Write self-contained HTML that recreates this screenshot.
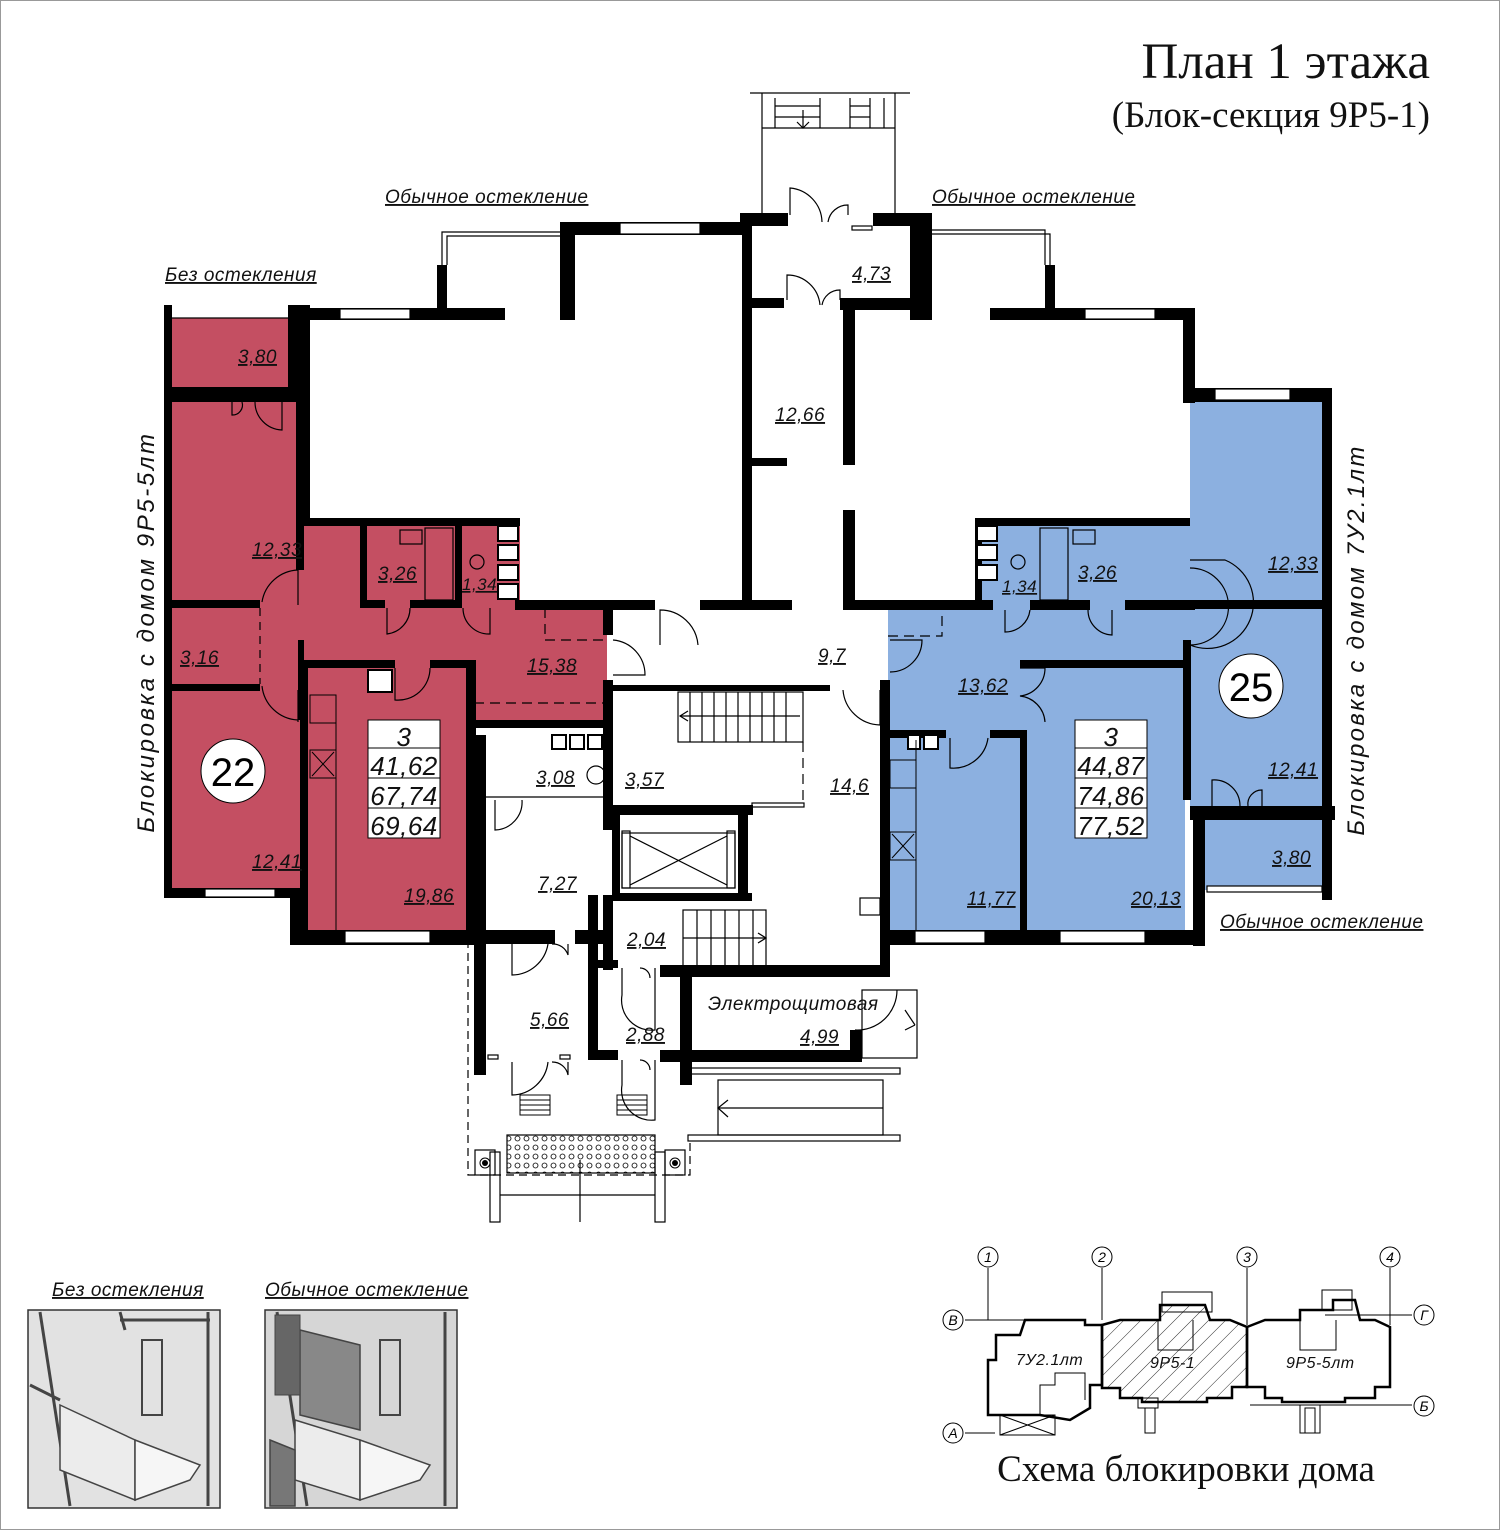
<!DOCTYPE html>
<html><head><meta charset="utf-8"><style>
html,body{margin:0;padding:0;background:#fff;}
svg{display:block;}
.l{font-family:"Liberation Sans","DejaVu Sans",sans-serif;font-style:italic;font-size:19px;fill:#111;letter-spacing:0.5px;}
.s{font-family:"Liberation Sans","DejaVu Sans",sans-serif;font-style:italic;font-size:19px;fill:#111;letter-spacing:0.5px;}
.t{font-family:"Liberation Serif",serif;fill:#111;}
</style></head><body>
<svg width="1500" height="1530" viewBox="0 0 1500 1530" xmlns="http://www.w3.org/2000/svg">
<defs>
<pattern id="h" width="12" height="12" patternUnits="userSpaceOnUse" patternTransform="rotate(45)"><line x1="0" y1="0" x2="0" y2="12" stroke="#000" stroke-width="0.8"/></pattern>
<pattern id="dots" width="9" height="9" patternUnits="userSpaceOnUse"><circle cx="4.5" cy="4.5" r="2.5" fill="none" stroke="#000" stroke-width="0.8"/></pattern>
</defs>
<rect x="0.5" y="0.5" width="1499" height="1529" fill="#fff" stroke="#999"/>
<text class="t" x="1430" y="78" font-size="51" text-anchor="end">План 1 этажа</text>
<text class="t" x="1430" y="127" font-size="37" text-anchor="end">(Блок-секция 9Р5-1)</text>

<!-- red apartment -->
<g fill="#c44f62">
<rect x="172" y="318" width="116" height="70"/>
<rect x="172" y="402" width="130" height="490"/>
<rect x="300" y="522" width="220" height="80"/>
<rect x="255" y="600" width="352" height="70"/>
<rect x="474" y="600" width="133" height="124"/>
<rect x="300" y="660" width="170" height="272"/>
</g>
<!-- blue apartment -->
<g fill="#8cb0e0">
<rect x="1190" y="402" width="134" height="404"/>
<rect x="1205" y="818" width="118" height="72"/>
<rect x="975" y="522" width="215" height="84"/>
<rect x="888" y="604" width="302" height="62"/>
<rect x="888" y="660" width="135" height="272"/>
<rect x="1023" y="665" width="162" height="267"/>
</g>

<!-- walls -->
<g fill="#000">
<rect x="164" y="305" width="8" height="82"/>
<rect x="164" y="387" width="136" height="15"/>
<rect x="164" y="400" width="8" height="498"/>
<rect x="288" y="305" width="22" height="97"/>
<rect x="300" y="305" width="10" height="220"/>
<rect x="300" y="308" width="205" height="12"/>
<rect x="437" y="265" width="10" height="50"/>
<rect x="560" y="225" width="15" height="95"/>
<rect x="560" y="222" width="190" height="13"/>
<rect x="296" y="402" width="8" height="168"/>
<rect x="300" y="518" width="220" height="8"/>
<rect x="172" y="600" width="88" height="8"/>
<rect x="172" y="684" width="88" height="7"/>
<rect x="298" y="640" width="6" height="80"/>
<rect x="164" y="888" width="136" height="10"/>
<rect x="290" y="888" width="10" height="57"/>
<rect x="290" y="930" width="190" height="15"/>
<rect x="300" y="660" width="8" height="272"/>
<rect x="300" y="660" width="95" height="8"/>
<rect x="430" y="660" width="45" height="8"/>
<rect x="466" y="660" width="10" height="285"/>
<rect x="470" y="720" width="140" height="8"/>
<rect x="603" y="605" width="10" height="30"/>
<rect x="603" y="680" width="10" height="150"/>
<rect x="515" y="600" width="140" height="10"/>
<rect x="360" y="522" width="7" height="82"/>
<rect x="455" y="522" width="7" height="82"/>
<rect x="360" y="600" width="25" height="8"/>
<rect x="410" y="600" width="52" height="8"/>
<rect x="740" y="213" width="48" height="13"/>
<rect x="873" y="213" width="59" height="13"/>
<rect x="742" y="220" width="10" height="380"/>
<rect x="700" y="600" width="92" height="10"/>
<rect x="752" y="298" width="32" height="10"/>
<rect x="840" y="298" width="70" height="12"/>
<rect x="910" y="225" width="22" height="95"/>
<rect x="752" y="458" width="35" height="8"/>
<rect x="843" y="305" width="12" height="160"/>
<rect x="843" y="510" width="12" height="100"/>
<rect x="990" y="308" width="200" height="12"/>
<rect x="1045" y="265" width="10" height="50"/>
<rect x="1183" y="308" width="12" height="95"/>
<rect x="1190" y="388" width="142" height="14"/>
<rect x="1322" y="388" width="10" height="512"/>
<rect x="975" y="518" width="215" height="8"/>
<rect x="975" y="518" width="7" height="86"/>
<rect x="843" y="600" width="150" height="10"/>
<rect x="1030" y="600" width="60" height="10"/>
<rect x="1125" y="600" width="70" height="10"/>
<rect x="1185" y="600" width="140" height="9"/>
<rect x="880" y="680" width="10" height="290"/>
<rect x="1020" y="660" width="170" height="8"/>
<rect x="1183" y="640" width="8" height="160"/>
<rect x="886" y="730" width="60" height="8"/>
<rect x="990" y="730" width="35" height="8"/>
<rect x="1020" y="730" width="7" height="202"/>
<rect x="1190" y="806" width="145" height="14"/>
<rect x="1193" y="806" width="12" height="140"/>
<rect x="880" y="930" width="320" height="15"/>
<rect x="613" y="685" width="217" height="6"/>
<rect x="603" y="805" width="150" height="10"/>
<rect x="612" y="815" width="8" height="85"/>
<rect x="738" y="815" width="10" height="85"/>
<rect x="612" y="893" width="140" height="8"/>
<rect x="474" y="735" width="12" height="340"/>
<rect x="455" y="930" width="100" height="14"/>
<rect x="575" y="930" width="30" height="14"/>
<rect x="588" y="895" width="10" height="165"/>
<rect x="603" y="895" width="10" height="75"/>
<rect x="598" y="960" width="20" height="8"/>
<rect x="660" y="965" width="230" height="12"/>
<rect x="680" y="975" width="12" height="110"/>
<rect x="692" y="1050" width="170" height="12"/>
<rect x="850" y="1030" width="12" height="30"/>
<rect x="598" y="1050" width="20" height="10"/>
<rect x="660" y="1050" width="30" height="12"/>
</g>

<g fill="none" stroke="#000" stroke-width="1.2">
<rect x="340" y="309" width="70" height="10" fill="#fff"/>
<rect x="620" y="223" width="80" height="11" fill="#fff"/>
<rect x="1085" y="309" width="70" height="10" fill="#fff"/>
<rect x="1215" y="389" width="75" height="11" fill="#fff"/>
<rect x="205" y="889" width="70" height="8" fill="#fff"/>
<rect x="345" y="931" width="85" height="12" fill="#fff"/>
<rect x="915" y="931" width="70" height="12" fill="#fff"/>
<rect x="1060" y="931" width="85" height="12" fill="#fff"/>
<rect x="1207" y="886" width="115" height="6" fill="#fff"/>
<polyline points="442,265 442,232 560,232"/>
<polyline points="447,265 447,236 560,236"/>
<polyline points="932,230 1045,230 1045,265"/>
<polyline points="932,234 1050,234 1050,265"/>
<line x1="172" y1="318" x2="288" y2="318"/>
<line x1="750" y1="93" x2="910" y2="93"/>
<line x1="762" y1="93" x2="762" y2="215"/><line x1="895" y1="93" x2="895" y2="215"/>
<line x1="762" y1="128" x2="895" y2="128"/>
<line x1="775" y1="98" x2="775" y2="128"/><line x1="820" y1="98" x2="820" y2="128"/>
<line x1="850" y1="98" x2="850" y2="128"/><line x1="870" y1="98" x2="870" y2="128"/><line x1="884" y1="98" x2="884" y2="128"/>
<line x1="775" y1="106" x2="820" y2="106"/><line x1="775" y1="117" x2="820" y2="117"/>
<line x1="850" y1="106" x2="870" y2="106"/><line x1="850" y1="117" x2="870" y2="117"/>
<line x1="803" y1="110" x2="803" y2="128"/><polyline points="797,122 803,128 809,122"/>
<path d="M790,215 V188 A35,35 0 0 1 822,222"/><path d="M848,215 V205 A20,20 0 0 0 828,222"/>
<path d="M787,300 V275 A33,33 0 0 1 820,305"/><path d="M840,300 V290 A18,18 0 0 0 822,305"/>
<path d="M232,402 V415 A10,10 0 0 0 242,402"/><path d="M282,402 V430 A28,28 0 0 1 255,402"/>
<path d="M298,570 A38,38 0 0 0 262,602"/><path d="M298,570 V605"/>
<path d="M298,720 A38,38 0 0 1 262,686"/><path d="M298,690 V722"/>
<line x1="260" y1="608" x2="260" y2="684" stroke-dasharray="8,6"/>
<path d="M387,608 V634 A26,26 0 0 0 410,608"/>
<path d="M463,608 A26,26 0 0 0 490,634 V608"/>
<path d="M395,668 V700 A32,32 0 0 0 430,668"/>
<polyline points="545,608 545,640 605,640" stroke-dasharray="10,6"/>
<line x1="474" y1="703" x2="605" y2="703" stroke-dasharray="10,6"/>
<path d="M613,640 A35,35 0 0 1 645,675 H613"/>
<path d="M660,645 V610 A38,38 0 0 1 698,645"/>
<path d="M843,690 A38,38 0 0 0 880,725 V690"/>
<polyline points="888,636 942,636 942,610" stroke-dasharray="10,6"/>
<path d="M890,640 H922 A32,32 0 0 1 890,672"/>
<path d="M1005,610 V632 A25,25 0 0 0 1030,610"/>
<path d="M1088,610 A25,25 0 0 0 1112,635 V610"/>
<path d="M1190,568 A38,38 0 0 1 1190,645"/><path d="M1190,560 H1225 A40,40 0 0 1 1190,645"/>
<path d="M1020,668 H1045 A28,28 0 0 1 1020,696 A28,28 0 0 1 1045,722"/>
<path d="M950,738 V768 A35,35 0 0 0 988,738"/>
<path d="M1212,806 V780 A26,26 0 0 1 1240,806"/><path d="M1262,806 V790 A14,14 0 0 0 1248,806"/>
<path d="M495,800 V830 A28,28 0 0 0 522,800"/>
<line x1="486" y1="797" x2="603" y2="797"/>
<rect x="678" y="692" width="125" height="50"/>
<g><line x1="690" y1="692" x2="690" y2="742"/><line x1="702" y1="692" x2="702" y2="742"/><line x1="714" y1="692" x2="714" y2="742"/><line x1="726" y1="692" x2="726" y2="742"/><line x1="738" y1="692" x2="738" y2="742"/><line x1="750" y1="692" x2="750" y2="742"/><line x1="762" y1="692" x2="762" y2="742"/><line x1="774" y1="692" x2="774" y2="742"/><line x1="786" y1="692" x2="786" y2="742"/></g>
<line x1="680" y1="716" x2="800" y2="716"/><polyline points="688,711 680,716 688,721"/>
<line x1="803" y1="742" x2="803" y2="803" stroke-dasharray="10,6"/>
<rect x="752" y="803" width="52" height="4"/>
<rect x="622" y="833" width="113" height="55"/>
<line x1="630" y1="836" x2="727" y2="885"/><line x1="630" y1="885" x2="727" y2="836"/>
<rect x="622" y="831" width="8" height="57"/><rect x="727" y="831" width="8" height="57"/>
<rect x="683" y="910" width="83" height="57"/>
<g><line x1="697" y1="910" x2="697" y2="967"/><line x1="711" y1="910" x2="711" y2="967"/><line x1="725" y1="910" x2="725" y2="967"/><line x1="739" y1="910" x2="739" y2="967"/><line x1="753" y1="910" x2="753" y2="967"/></g>
<line x1="683" y1="938" x2="766" y2="938"/><polyline points="758,933 766,938 758,943"/>
<rect x="860" y="898" width="20" height="17"/>
<path d="M512,944 V975 A37,37 0 0 0 548,944"/><path d="M568,944 V955 A16,16 0 0 0 552,944"/>
<path d="M622,968 V995 A30,30 0 0 0 655,1030 V968"/><path d="M650,978 A10,10 0 0 0 640,968"/>
<path d="M512,1062 V1095 A37,37 0 0 0 548,1062"/><path d="M568,1062 V1075 A16,16 0 0 0 552,1062"/>
<path d="M622,1060 V1085 A30,30 0 0 0 655,1120 V1060"/><path d="M650,1070 A10,10 0 0 0 640,1060"/>
<path d="M897,990 A40,40 0 0 1 855,1030"/>
<rect x="862" y="990" width="55" height="68"/><line x1="905" y1="1010" x2="915" y2="1025"/><line x1="905" y1="1030" x2="915" y2="1025"/>
<rect x="688" y="1068" width="212" height="6"/>
<rect x="688" y="1135" width="212" height="6"/>
<rect x="718" y="1080" width="165" height="55"/>
<line x1="718" y1="1108" x2="883" y2="1108"/><polyline points="728,1100 718,1108 728,1117"/>
<polyline points="468,940 468,1175 690,1175 690,1140" stroke-dasharray="8,5"/>
<rect x="475" y="1150" width="20" height="25"/><rect x="665" y="1150" width="20" height="25"/>
<rect x="490" y="1152" width="10" height="70"/><rect x="655" y="1152" width="10" height="70"/>
<line x1="500" y1="1195" x2="655" y2="1195"/><line x1="580" y1="1160" x2="580" y2="1222"/>
<rect x="507" y="1135" width="148" height="38" fill="url(#dots)"/>
<rect x="488" y="1055" width="10" height="4"/><rect x="560" y="1055" width="10" height="4"/>
<rect x="852" y="226" width="20" height="4"/>
<rect x="425" y="528" width="28" height="72"/><rect x="400" y="530" width="22" height="14"/>
<rect x="1040" y="528" width="28" height="72"/><rect x="1073" y="530" width="22" height="14"/>
<circle cx="477" cy="562" r="7"/><circle cx="1018" cy="562" r="7"/>
<circle cx="596" cy="775" r="9"/>
</g>
<g fill="#fff" stroke="#000" stroke-width="2">
<rect x="498" y="526" width="20" height="15"/><rect x="498" y="545" width="20" height="15"/><rect x="498" y="565" width="20" height="15"/><rect x="498" y="584" width="20" height="15"/>
<rect x="977" y="526" width="20" height="15"/><rect x="977" y="545" width="20" height="15"/><rect x="977" y="565" width="20" height="15"/>
<rect x="552" y="735" width="14" height="14"/><rect x="570" y="735" width="14" height="14"/><rect x="588" y="735" width="14" height="14"/>
<rect x="908" y="735" width="12" height="14"/><rect x="924" y="735" width="14" height="14"/>
<rect x="368" y="670" width="24" height="22"/>
</g>
<g fill="none" stroke="#000" stroke-width="1">
<rect x="310" y="695" width="26" height="28"/><rect x="310" y="750" width="26" height="28"/>
<line x1="312" y1="752" x2="334" y2="776"/><line x1="312" y1="776" x2="334" y2="752"/>
<rect x="890" y="760" width="26" height="28"/><rect x="890" y="832" width="26" height="28"/>
<line x1="892" y1="834" x2="914" y2="858"/><line x1="892" y1="858" x2="914" y2="834"/>
<line x1="336" y1="695" x2="336" y2="930"/><line x1="916" y1="740" x2="916" y2="930"/>
</g>
<g fill="none" stroke="#000" stroke-width="1"><rect x="520" y="1095" width="30" height="20"/><rect x="617" y="1095" width="30" height="20"/>
<line x1="520" y1="1100" x2="550" y2="1100"/><line x1="520" y1="1105" x2="550" y2="1105"/><line x1="520" y1="1110" x2="550" y2="1110"/>
<line x1="617" y1="1100" x2="647" y2="1100"/><line x1="617" y1="1105" x2="647" y2="1105"/><line x1="617" y1="1110" x2="647" y2="1110"/></g>
<g fill="#fff" stroke="#000" stroke-width="1"><circle cx="485" cy="1163" r="5"/><circle cx="675" cy="1163" r="5"/></g>
<g fill="#000"><circle cx="485" cy="1163" r="3"/><circle cx="675" cy="1163" r="3"/></g>

<g fill="#fff" stroke="#000" stroke-width="1">
<rect x="368" y="720" width="72" height="118"/><line x1="368" y1="748" x2="440" y2="748"/><line x1="368" y1="778" x2="440" y2="778"/><line x1="368" y1="808" x2="440" y2="808"/>
<rect x="1075" y="720" width="72" height="118"/><line x1="1075" y1="748" x2="1147" y2="748"/><line x1="1075" y1="778" x2="1147" y2="778"/><line x1="1075" y1="808" x2="1147" y2="808"/>
<circle cx="233" cy="771" r="32"/><circle cx="1251" cy="686" r="32"/>
</g>
<g class="l" text-anchor="middle" style="font-size:26px">
<text x="404" y="746">3</text><text x="404" y="775">41,62</text><text x="404" y="805">67,74</text><text x="404" y="835">69,64</text>
<text x="1111" y="746">3</text><text x="1111" y="775">44,87</text><text x="1111" y="805">74,86</text><text x="1111" y="835">77,52</text>
</g>
<text x="233" y="786" text-anchor="middle" font-family="Liberation Sans,sans-serif" font-size="40">22</text>
<text x="1251" y="701" text-anchor="middle" font-family="Liberation Sans,sans-serif" font-size="40">25</text>

<g class="l" text-decoration="underline">
<text x="238" y="363">3,80</text>
<text x="252" y="556">12,33</text>
<text x="378" y="580">3,26</text>
<text x="462" y="590" style="font-size:17px">1,34</text>
<text x="180" y="664">3,16</text>
<text x="527" y="672">15,38</text>
<text x="252" y="868">12,41</text>
<text x="404" y="902">19,86</text>
<text x="852" y="280">4,73</text>
<text x="775" y="421">12,66</text>
<text x="818" y="662">9,7</text>
<text x="536" y="784">3,08</text>
<text x="625" y="786">3,57</text>
<text x="830" y="792">14,6</text>
<text x="538" y="890">7,27</text>
<text x="627" y="946">2,04</text>
<text x="530" y="1026">5,66</text>
<text x="626" y="1041">2,88</text>
<text x="800" y="1043">4,99</text>
<text x="1268" y="570">12,33</text>
<text x="1078" y="579">3,26</text>
<text x="1002" y="592" style="font-size:17px">1,34</text>
<text x="958" y="692">13,62</text>
<text x="1268" y="776">12,41</text>
<text x="1272" y="864">3,80</text>
<text x="967" y="905">11,77</text>
<text x="1131" y="905">20,13</text>
</g>
<text class="l" x="708" y="1010">Электрощитовая</text>
<g class="s" text-decoration="underline">
<text x="385" y="203">Обычное остекление</text>
<text x="932" y="203">Обычное остекление</text>
<text x="165" y="281">Без остекления</text>
<text x="1220" y="928">Обычное остекление</text>
<text x="52" y="1296">Без остекления</text>
<text x="265" y="1296">Обычное остекление</text>
</g>
<text class="l" transform="translate(154,632) rotate(-90)" text-anchor="middle" style="font-size:24px;letter-spacing:2.6px">Блокировка с домом 9Р5-5лт</text>
<text class="l" transform="translate(1364,640) rotate(-90)" text-anchor="middle" style="font-size:24px;letter-spacing:2.3px">Блокировка с домом 7У2.1лт</text>

<g stroke="#333" stroke-width="1.5">
<rect x="28" y="1310" width="192" height="198" fill="#e2e2e2"/>
<rect x="265" y="1310" width="192" height="198" fill="#d6d6d6"/>
</g>
<g fill="none" stroke="#444" stroke-width="3">
<line x1="40" y1="1312" x2="70" y2="1506"/><line x1="120" y1="1312" x2="125" y2="1330"/>
<line x1="30" y1="1385" x2="60" y2="1400"/><polygon points="60,1405 135,1440 135,1500 60,1470" fill="#ececec" stroke-width="1.5"/>
<polygon points="135,1440 200,1465 190,1480 135,1500" fill="#f6f6f6" stroke-width="1.5"/>
<rect x="142" y="1340" width="20" height="75" stroke-width="2"/>
<line x1="120" y1="1320" x2="210" y2="1320"/><line x1="208" y1="1312" x2="208" y2="1506"/>
<line x1="277" y1="1312" x2="307" y2="1506"/><line x1="445" y1="1312" x2="445" y2="1506"/>
<polygon points="300,1330 360,1345 360,1430 300,1415" fill="#888" stroke-width="1.5"/>
<polygon points="295,1420 360,1440 360,1500 295,1480" fill="#ececec" stroke-width="1.5"/>
<polygon points="270,1440 295,1450 295,1506 270,1506" fill="#777" stroke-width="1.5"/>
<polygon points="360,1440 430,1465 420,1480 360,1500" fill="#f6f6f6" stroke-width="1.5"/>
<rect x="380" y="1340" width="20" height="75" stroke-width="2"/>
<rect x="275" y="1315" width="25" height="80" fill="#666" stroke-width="1"/>
</g>

<g fill="none" stroke="#000" stroke-width="1">
<line x1="988" y1="1268" x2="988" y2="1320"/><line x1="1102" y1="1268" x2="1102" y2="1320"/><line x1="1247" y1="1268" x2="1247" y2="1325"/><line x1="1390" y1="1268" x2="1390" y2="1325"/>
<line x1="965" y1="1320" x2="1085" y2="1320"/><line x1="965" y1="1433" x2="995" y2="1433"/>
<line x1="1325" y1="1315" x2="1412" y2="1315"/><line x1="1250" y1="1405" x2="1412" y2="1405"/>
<circle cx="988" cy="1257" r="10"/><circle cx="1102" cy="1257" r="10"/><circle cx="1247" cy="1257" r="10"/><circle cx="1390" cy="1257" r="10"/>
<circle cx="953" cy="1320" r="10"/><circle cx="953" cy="1433" r="10"/><circle cx="1424" cy="1315" r="10"/><circle cx="1424" cy="1406" r="10"/>
<rect x="1000" y="1415" width="55" height="20"/><line x1="1000" y1="1415" x2="1055" y2="1435"/><line x1="1000" y1="1435" x2="1055" y2="1415"/>
<polyline points="1040,1415 1040,1385 1055,1385 1055,1373 1085,1373 1085,1400"/>
<polyline points="1158,1320 1158,1350 1193,1350 1193,1320"/>
<polyline points="1300,1320 1300,1350 1336,1350 1336,1320"/>
<rect x="1162" y="1292" width="50" height="20"/><rect x="1322" y="1290" width="30" height="20"/>
<rect x="1138" y="1398" width="20" height="10"/><rect x="1300" y="1405" width="20" height="28"/>
<rect x="1305" y="1408" width="10" height="25"/><rect x="1145" y="1408" width="10" height="25"/>
</g>
<g stroke="#000" stroke-width="2.5" fill="none">
<polygon points="1025,1320 1085,1320 1085,1325 1102,1325 1102,1385 1090,1385 1090,1408 1070,1420 1040,1415 988,1415 988,1360 996,1360 996,1335 1020,1335"/>
<polygon fill="url(#h)" points="1102,1325 1120,1320 1160,1320 1160,1305 1205,1305 1210,1320 1230,1320 1247,1327 1247,1387 1232,1387 1232,1398 1207,1398 1207,1402 1142,1402 1142,1398 1120,1398 1120,1388 1102,1388"/>
<polygon points="1247,1327 1265,1320 1300,1320 1300,1310 1333,1310 1333,1300 1355,1300 1360,1320 1375,1320 1390,1327 1390,1387 1375,1387 1375,1398 1345,1398 1345,1402 1282,1402 1282,1398 1265,1398 1265,1387 1247,1387"/>
</g>
<g class="l" style="font-size:16px" fill="#111">
<text x="1016" y="1365">7У2.1лт</text><text x="1150" y="1368">9Р5-1</text><text x="1286" y="1368">9Р5-5лт</text>
</g>
<g font-family="Liberation Sans,sans-serif" font-style="italic" font-size="14" text-anchor="middle">
<text x="988" y="1262">1</text><text x="1102" y="1262">2</text><text x="1247" y="1262">3</text><text x="1390" y="1262">4</text>
<text x="953" y="1325">В</text><text x="953" y="1438">А</text><text x="1424" y="1320">Г</text><text x="1424" y="1411">Б</text>
</g>
<text class="t" x="1186" y="1481" font-size="37" text-anchor="middle">Схема блокировки дома</text>
</svg>
</body></html>
